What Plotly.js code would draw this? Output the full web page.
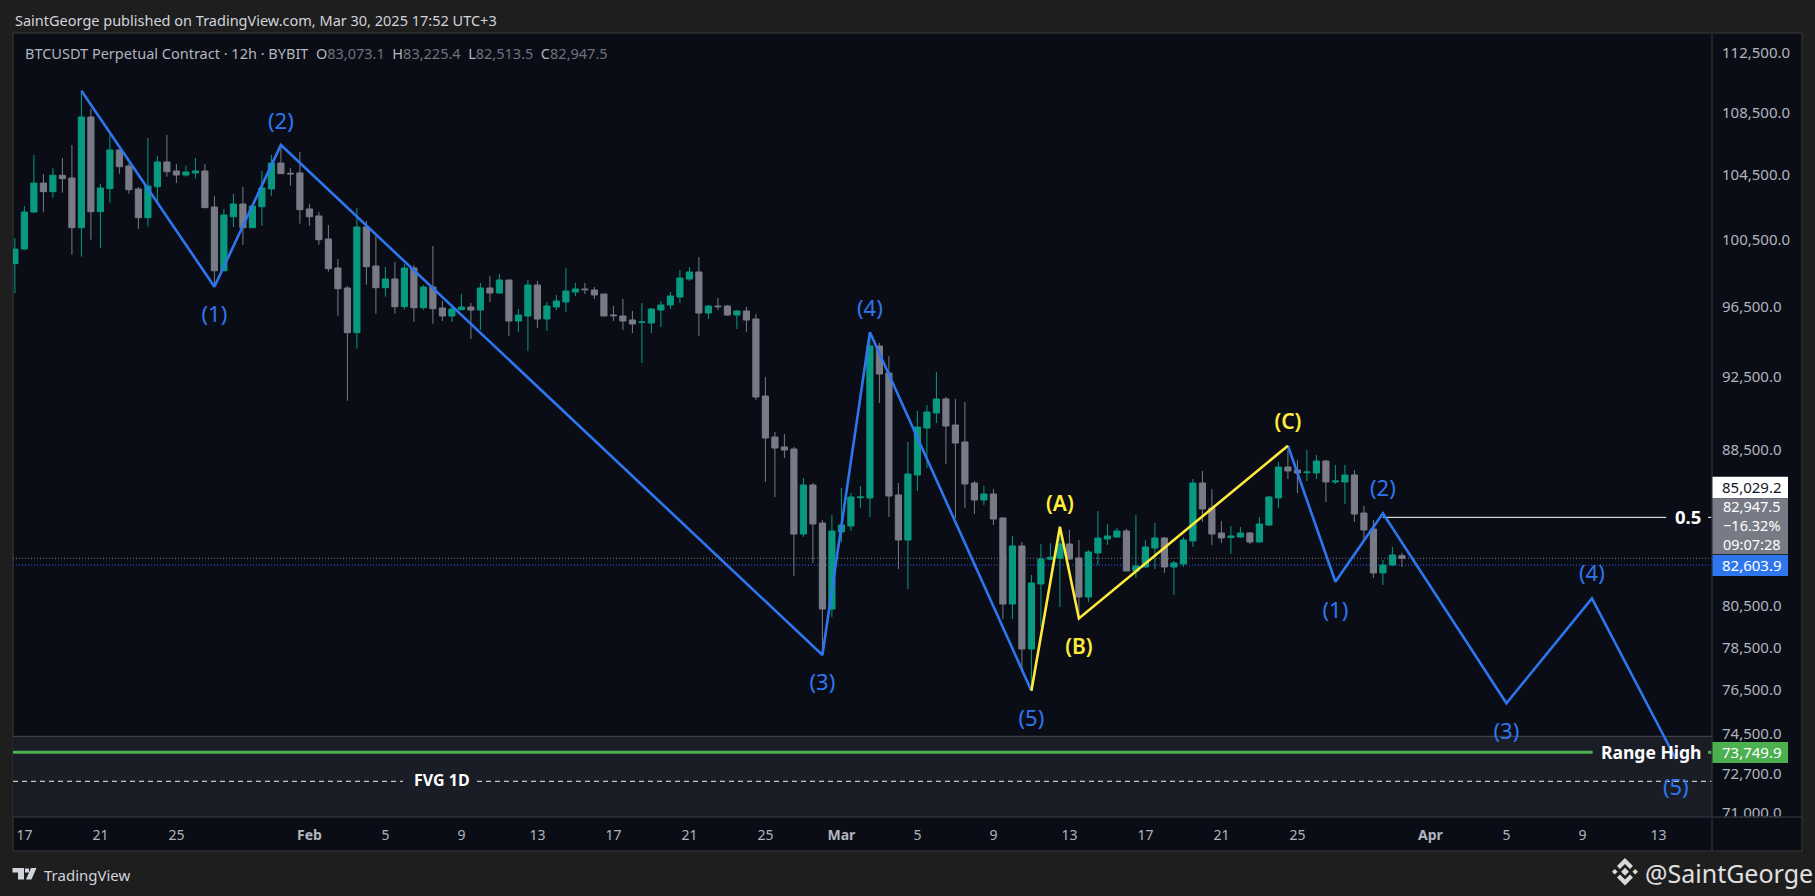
<!DOCTYPE html>
<html><head><meta charset="utf-8">
<script src="https://cdn.plot.ly/plotly-3.0.1.min.js"></script>
<style>html,body{margin:0;padding:0;background:#1e1e1e;overflow:hidden}</style>
</head><body><div id="chart" style="width:1815px;height:896px"></div>
<script>
const opens=[99150,100030,102300,104110,103570,104600,104430,101333,108360,102320,103760,106217,105190,103740,101950,103880,105447,104875,104620,104750,104875,102610,98727,102000,102800,101333,102630,103740,105380,104730,104750,102490,102055,100640,98890,97699,95090,101376,99010,97717,98233,96600,98890,96540,97758,96523,96056,96424,96582,96405,97699,97404,98174,95766,96056,97877,95882,96582,96875,97463,97640,97580,97345,96114,96056,95824,95680,95650,96405,96700,97168,98233,98651,96230,96640,96640,96114,96348,95882,91513,89268,88730,88620,84175,86710,84737,80435,84280,84585,86050,86031,94328,92797,86187,83870,87238,89756,90575,91347,89920,88998,86815,85927,86240,84995,80680,83565,78512,81665,82900,82950,83667,82961,81024,83213,83921,84023,84330,82311,82510,83465,83972,82510,82660,83820,86815,85511,84226,84000,84023,84226,83770,84635,86031,87660,87500,87360,87344,87980,86870,86870,87238,85253,84430,82211,82610,83073.1];
const highs=[100700,102670,105900,104680,105045,105703,106539,110100,108887,104052,107186,106230,105360,103860,106991,105832,107186,105320,105212,105703,105320,103298,102488,103424,103863,102680,104875,105896,106539,105065,106088,102800,102300,101500,99430,97815,102550,101745,100825,98950,99250,99130,99070,97875,100216,96933,96700,97345,96816,97995,98412,98532,98190,96465,98174,98115,96875,97287,98890,97995,97995,97758,97345,96640,97050,96348,96816,96523,96933,97463,98771,98950,99552,96700,97109,96700,96405,96582,96172,92572,89540,89430,88730,87079,86815,84892,85150,86553,86292,86657,95055,94500,93757,86815,88998,90685,91015,92852,91458,91347,91180,86920,86657,86500,85046,84073,83770,82110,83667,83700,84380,84380,83870,83365,85356,84686,84482,84430,85150,83870,84737,84023,82810,84023,87026,87450,86500,84840,84585,84535,84278,85046,86135,87925,88568,88033,88568,88300,88033,87767,87767,87500,85615,84892,82860,83515,83225.4];
const lows=[97390,100000,102250,102300,103190,103505,99690,99570,100600,100113,102880,104703,103440,101270,101395,102840,104512,104115,104510,104410,102540,97775,98700,101376,100296,101330,101438,103316,104690,103945,101580,101455,100296,98670,96075,91250,94172,97895,96190,97185,96190,96424,95725,96424,95608,95766,95708,96400,94728,95245,96875,97380,94900,95130,94040,95360,95187,96405,96290,97227,97345,97050,96056,95766,95245,95072,93360,95072,95418,96465,96816,98115,94900,95882,96405,96056,95302,95130,91290,86870,86083,88140,82062,84023,82710,78322,80050,83770,84330,85511,85046,91125,85046,82410,81418,86396,87608,90028,87820,84995,85511,85200,85665,84637,79950,79950,77520,76587,79567,82860,80535,82860,80064,80780,82610,83616,84000,82290,81962,82490,82410,82211,81123,82510,83515,84790,83616,83717,83162,83972,83667,83750,84585,85511,87026,86292,86920,87026,85825,86764,85720,84790,83870,81962,81615,82560,82513.5];
const closes=[100030,102300,104110,103570,104600,104388,101333,108360,102320,103800,106217,105148,103693,101950,103926,105447,104830,104620,104812,104875,102570,98727,102116,102800,101333,102674,103800,105380,104703,104690,102445,102010,100600,98848,97658,95090,101376,98970,97717,98233,96600,98890,96540,97758,96482,96056,96465,96582,96405,97699,97404,98174,95766,96114,97877,95882,96640,96933,97522,97640,97600,97287,96056,96075,95766,95593,95708,96465,96700,97227,98293,98651,96230,96640,96600,96114,96348,95824,91457,89214,88675,88568,84175,86710,84686,80435,84330,84635,86083,86083,94328,92740,86135,83870,87290,89811,90630,91347,89866,88945,86764,85927,86240,84944,80680,83565,78512,81714,82911,83000,83667,82911,81024,83264,83972,84073,84330,82311,82560,83515,83972,82510,82710,83870,86815,85460,84175,83972,84073,84226,83770,84686,86083,87660,87450,87344,87396,87980,86870,86920,87238,85200,84380,82211,82610,83113,82947.5];

const waveBlueTimes1=['2025-01-20 00:00','2025-01-27 00:00','2025-01-30 12:00','2025-02-28 00:00','2025-03-02 12:00','2025-03-11 00:00'];
const waveBluePrices1=[110100,97775,106539,78228,95113,76555];
const waveYellowTimes=['2025-03-11 00:00','2025-03-12 12:00','2025-03-13 12:00','2025-03-24 12:00'];
const waveYellowPrices=[76555,84548,79980,88798];
const waveBlueTimes2=['2025-03-24 12:00','2025-03-27 00:00','2025-03-29 12:00','2025-04-05 00:00','2025-04-09 12:00','2025-04-13 22:00'];
const waveBluePrices2=[88798,81778,85238,75973,80957,73451];

const blueLabels=['(1)','(2)','(3)','(4)','(5)','(1)','(2)','(3)','(4)','(5)'];
const blueLabelTimes=['2025-01-27 00:00','2025-01-30 12:00','2025-02-28 00:00','2025-03-02 12:00','2025-03-11 00:00','2025-03-27 00:00','2025-03-29 12:00','2025-04-05 00:00','2025-04-09 12:00','2025-04-13 22:00'];
const blueLabelPrices=[96010,107955,76845,96395,75170,80268,86407,74595,82072,72120];
const yellowLabels=['(A)','(B)','(C)'];
const yellowLabelTimes=['2025-03-12 12:00','2025-03-13 12:00','2025-03-24 12:00'];
const yellowLabelPrices=[85625,78502,89964];

const priceTicks=[71000,72700,74500,76500,78500,80500,88500,92500,96500,100500,104500,108500,112500];
const timeTickVals=['2025-01-17','2025-01-21','2025-01-25','2025-02-01','2025-02-05','2025-02-09','2025-02-13','2025-02-17','2025-02-21','2025-02-25','2025-03-01','2025-03-05','2025-03-09','2025-03-13','2025-03-17','2025-03-21','2025-03-25','2025-04-01','2025-04-05','2025-04-09','2025-04-13'];
const timeTickText=['17','21','25','<b>Feb</b>','5','9','13','17','21','25','<b>Mar</b>','5','9','13','17','21','25','<b>Apr</b>','5','9','13'];

const lastPrice=82947.5, markPrice=82603.9, fibPrice=85029.2, rangeHigh=73749.9, fvgMid=72466, fvgTop=74468;

const barTimes=opens.map((_,i)=>new Date(Date.UTC(2025,0,16,12)+i*43200000).toISOString().slice(0,16).replace('T',' '));

const L=13,R=1712,T=33,B=817,W=R-L,H=B-T;
const xp=px=>(px-L)/W, yp=py=>(B-py)/H;
const FONT='"Noto Sans", sans-serif', BG='#0a0d16', PAGE='#1e1e1e', BLUE='#2e76ee', YELLOW='#ffeb3b', GREEN='#4caf50', UP='#089981', DOWN='#787b86';

function pxRect(x0,y0,x1,y1,fill,layer,line){return {type:'rect',xref:'paper',yref:'paper',x0:xp(x0),x1:xp(x1),y0:yp(y0),y1:yp(y1),fillcolor:fill,line:line||{width:0},layer:layer||'below'};}
function pxLine(x0,y0,x1,y1,color,width,layer){return {type:'line',xref:'paper',yref:'paper',x0:xp(x0),x1:xp(x1),y0:yp(y0),y1:yp(y1),line:{color:color,width:width||1},layer:layer||'above'};}
function pxPoly(pts,fill){const d=pts.map((p,i)=>(i?'L':'M')+xp(p[0]).toFixed(5)+','+yp(p[1]).toFixed(5)).join(' ')+' Z';return {type:'path',xref:'paper',yref:'paper',path:d,fillcolor:fill,line:{width:0},layer:'above'};}
function level(price,x0,x1,color,width,dash,xref){return {type:'line',xref:xref||'paper',yref:'y',x0:x0,x1:x1,y0:price,y1:price,line:{color:color,width:width,dash:dash||'solid'},layer:'below'};}
function txt(px,py,text,size,color,anchor,extra){return Object.assign({xref:'paper',yref:'paper',x:xp(px),y:yp(py),text:text,showarrow:false,xanchor:anchor||'center',yanchor:'middle',font:{family:FONT,size:size,color:color}},extra||{});}

const diamond=(cx,cy,r)=>pxPoly([[cx,cy-r],[cx+r,cy],[cx,cy+r],[cx-r,cy]],'#d9d9d9');
const shapes=[
 pxRect(13,33,1802,851,BG,'below',{color:'#2e2e2e',width:1.5}),
 {type:'rect',xref:'paper',yref:'y',x0:0,x1:1,y0:70000,y1:fvgTop,fillcolor:'#1a1d26',line:{width:0},layer:'below'},
 level(fvgTop,0,1,'#4a4d57',1),
 level(lastPrice,0,1,'#787b86',1,'1px,2px'),
 level(markPrice,0,1,'#2962ff',1,'1px,2px'),
 level(rangeHigh,0,xp(1592.7),GREEN,3),
 level(rangeHigh,xp(1708),1,GREEN,3),
 level(fvgMid,0,xp(403),'#f0f0f0',1,'5px,4px'),
 level(fvgMid,xp(477),1,'#f0f0f0',1,'5px,4px'),
 level(fibPrice,'2025-03-29 12:00','2025-04-13 10:00','#ffffff',1,'solid','x'),
 level(fibPrice,xp(1708),1,'#ffffff',1),
 pxRect(1713,817.5,1801,850,BG,'above'),
 pxLine(13,817,1802,817,'#2a2e39',1.5),
 pxLine(1712,33,1712,851,'#2a2e39',1.5),
 pxRect(1712.5,476.7,1788,498.3,'#ffffff','above'),
 pxRect(1712.5,498.3,1788,554.3,'#787b86','above'),
 pxRect(1712.5,555,1788,576,'#2e76ee','above'),
 pxRect(1712.5,742,1788,763,GREEN,'above'),
 pxPoly([[12.5,868],[24,868],[24,879.5],[18,879.5],[18,872.5],[12.5,872.5]],'#d1d4dc'),
 pxPoly([[31,868],[36.5,868],[31.5,879.5],[26,879.5]],'#d1d4dc'),
 pxPoly([[25,868.5],[29,868.5],[29,872.5],[25,872.5]],'#d1d4dc'),
 diamond(1625,871.7,4),diamond(1614.8,871.7,2.8),diamond(1635.2,871.7,2.8),
 pxPoly([[1625,858],[1633,866],[1630,869],[1625,864],[1620,869],[1617,866]],'#d9d9d9'),
 pxPoly([[1625,885.4],[1633,877.4],[1630,874.4],[1625,879.4],[1620,874.4],[1617,877.4]],'#d9d9d9')
];

const annotations=[
 txt(12.7,20,'SaintGeorge published on TradingView.com, Mar 30, 2025 17:52 UTC+3',14.5,'#d1d4dc','left'),
 txt(23,53.3,'BTCUSDT Perpetual Contract · 12h · BYBIT\u00a0\u00a0O<span style="color:#6f7380">83,073.1</span>\u00a0\u00a0H<span style="color:#6f7380">83,225.4</span>\u00a0\u00a0L<span style="color:#6f7380">82,513.5</span>\u00a0\u00a0C<span style="color:#6f7380">82,947.5</span>',14.5,'#b2b5be','left'),
 txt(442,779.5,'<b>FVG 1D</b>',16,'#ffffff'),
 txt(1651,751.5,'<b>Range High</b>',17.5,'#ffffff'),
 txt(1687.7,516.5,'<b>0.5</b>',18.5,'#ffffff'),
 txt(1752,486.7,'85,029.2',15,'#131722'),
 txt(1752,525.2,'82,947.5<br>−16.32%<br>09:07:28',14.5,'#ffffff'),
 txt(1752,564.7,'82,603.9',15,'#ffffff'),
 txt(1752,752,'73,749.9',15,'#ffffff'),
 txt(42,875,'TradingView',15,'#d1d4dc','left'),
 txt(1643,873,'@SaintGeorge',25,'#e0e0e0','left')
];

const data=[
 {type:'candlestick',x:barTimes,open:opens,high:highs,low:lows,close:closes,whiskerwidth:0,hoverinfo:'skip',
  increasing:{line:{color:UP,width:1},fillcolor:UP},decreasing:{line:{color:DOWN,width:1},fillcolor:DOWN}},
 {type:'scatter',mode:'lines',x:waveBlueTimes1,y:waveBluePrices1,line:{color:BLUE,width:2.6},hoverinfo:'skip'},
 {type:'scatter',mode:'lines',x:waveBlueTimes2,y:waveBluePrices2,line:{color:BLUE,width:2.6},hoverinfo:'skip'},
 {type:'scatter',mode:'lines',x:waveYellowTimes,y:waveYellowPrices,line:{color:YELLOW,width:2.6},hoverinfo:'skip'},
 {type:'scatter',mode:'text',x:blueLabelTimes,y:blueLabelPrices,text:blueLabels,textposition:'middle center',textfont:{family:FONT,size:22,color:BLUE},hoverinfo:'skip'},
 {type:'scatter',mode:'text',x:yellowLabelTimes,y:yellowLabelPrices,text:yellowLabels,textposition:'middle center',textfont:{family:FONT,size:21,color:YELLOW,weight:600},hoverinfo:'skip'}
];
const layout={
 width:1815,height:896,margin:{l:L,r:1815-R,t:T,b:896-B,pad:0},
 paper_bgcolor:PAGE,plot_bgcolor:'rgba(0,0,0,0)',showlegend:false,hovermode:false,boxgap:0.35,boxgroupgap:0,
 font:{family:FONT},
 xaxis:{type:'date',range:['2025-01-16 09:36','2025-04-15 19:41'],rangeslider:{visible:false},tickmode:'array',tickvals:timeTickVals,ticktext:timeTickText,
   ticks:'outside',ticklen:5,tickcolor:'rgba(0,0,0,0)',tickangle:0,tickfont:{family:FONT,size:14,color:'#b2b5be'},showgrid:false,zeroline:false,showline:false},
 yaxis:{type:'log',side:'right',range:[Math.log10(70916),Math.log10(114016)],tickmode:'array',tickvals:priceTicks,tickformat:',.1f',
   ticks:'outside',ticklen:6,tickcolor:'rgba(0,0,0,0)',tickfont:{family:FONT,size:15,color:'#b2b5be'},showgrid:false,zeroline:false,showline:false},
 shapes:shapes,annotations:annotations
};
Plotly.newPlot('chart',data,layout,{staticPlot:true,displayModeBar:false}).then(()=>{
 document.querySelectorAll('.ytick text').forEach(t=>t.setAttribute('y',(+t.getAttribute('y')||0)-2));
});
</script></body></html>
